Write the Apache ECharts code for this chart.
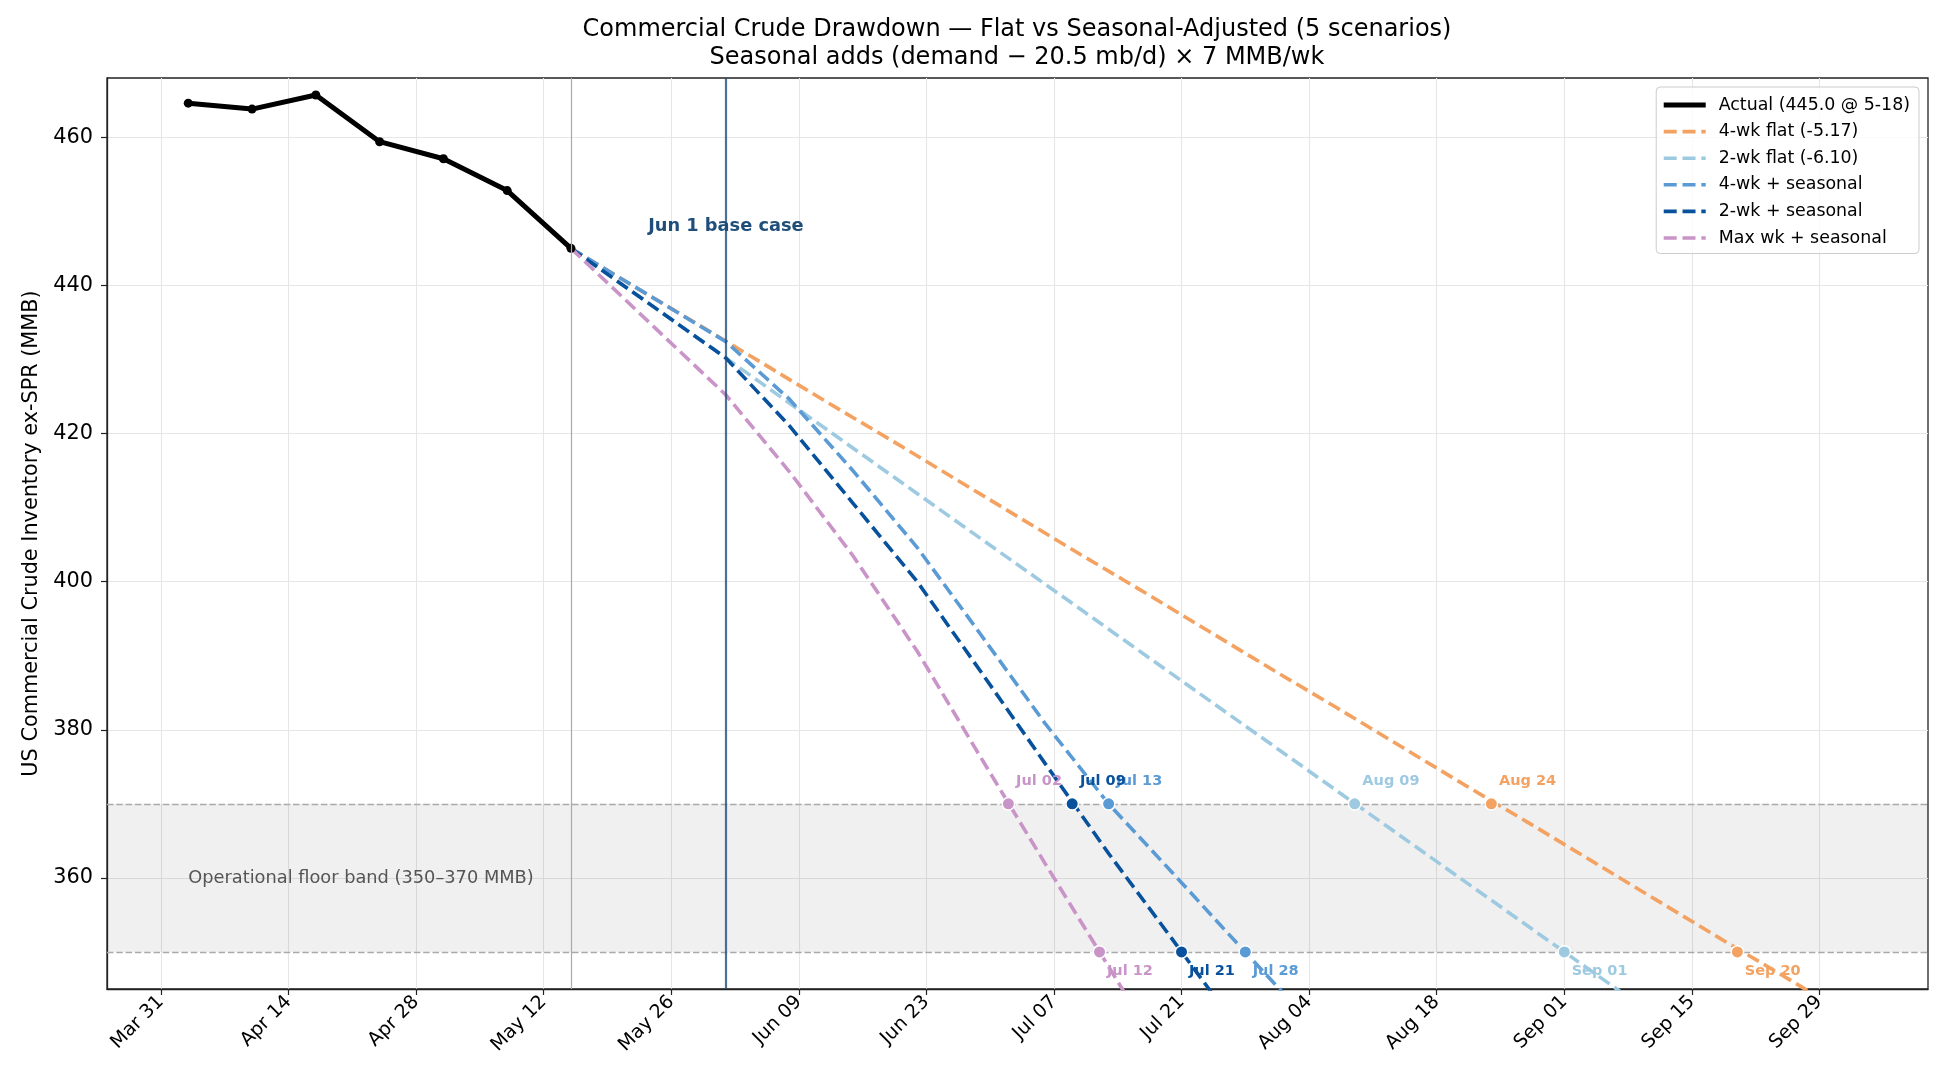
<!DOCTYPE html>
<html>
<head>
<meta charset="utf-8">
<script src="https://cdn.jsdelivr.net/npm/echarts@6/dist/echarts.min.js"></script>
<style>
  html, body { margin: 0; padding: 0; background: #fff; }
  #chart { width: 1950px; height: 1080px; }
</style>
</head>
<body>
<div id="chart"></div>
<script>
// ---- data ----
const actualDates = ['2026-04-03', '2026-04-10', '2026-04-17', '2026-04-24', '2026-05-01', '2026-05-08', '2026-05-15']
const actualValues = [464.6, 463.8, 465.7, 459.4, 457.1, 452.8, 445.0]

// flat projections, weekly from the last actual
const flatDates = ['2026-05-15', '2026-05-22', '2026-05-29', '2026-06-05', '2026-06-12', '2026-06-19', '2026-06-26',
  '2026-07-03', '2026-07-10', '2026-07-17', '2026-07-24', '2026-07-31', '2026-08-07', '2026-08-14',
  '2026-08-21', '2026-08-28', '2026-09-04', '2026-09-11', '2026-09-18', '2026-09-25', '2026-10-02']
const flat4wk = [445.0, 439.8, 434.7, 429.5, 424.3, 419.2, 414.0, 408.8, 403.6, 398.5, 393.3,
  388.1, 383.0, 377.8, 372.6, 367.5, 362.3, 357.1, 351.9, 346.8, 341.6]
const flat2wk = [445.0, 438.9, 432.8, 426.7, 420.6, 414.5, 408.4, 402.3, 396.2, 390.1, 384.0,
  377.9, 371.8, 365.7, 359.6, 353.5, 347.4, 341.3, 335.2, 329.1, 323.0]

// seasonal-adjusted projections (follow the flat pace until June, then steepen)
const seasonalDates = ['2026-05-15', '2026-06-01', '2026-06-08', '2026-06-15',
  '2026-06-22', '2026-06-29', '2026-07-06', '2026-07-13', '2026-07-20', '2026-07-27', '2026-08-03']
const seas4wk = [445.0, 432.4, 424.6, 414.9, 404.6, 392.8, 380.9, 370.0, 360.7, 351.3, 342.0]
const seas2wk = [445.0, 430.2, 421.0, 410.5, 400.0, 387.8, 375.5, 363.3, 351.7, 340.0, 328.5]
const seasMax = [445.0, 425.2, 414.8, 403.4, 390.6, 376.2, 362.0, 348.0, 334.0, 320.0, 306.0]

const scenarioNames = ['4-wk flat (-5.17)', '2-wk flat (-6.10)', '4-wk + seasonal', '2-wk + seasonal', 'Max wk + seasonal']
const cross370 = ['2026-08-24', '2026-08-09', '2026-07-13', '2026-07-09', '2026-07-02']
const cross350 = ['2026-09-20', '2026-09-01', '2026-07-28', '2026-07-21', '2026-07-12']

const xTicks = ['2026-03-31', '2026-04-14', '2026-04-28', '2026-05-12', '2026-05-26', '2026-06-09', '2026-06-23',
  '2026-07-07', '2026-07-21', '2026-08-04', '2026-08-18', '2026-09-01', '2026-09-15', '2026-09-29']
const yTicks = [360, 380, 400, 420, 440, 460]

const FLOOR_LO = 350
const FLOOR_HI = 370
const LAST_ACTUAL = '2026-05-15'
const BASE_CASE = '2026-06-01'

// ---- styles ----
const COLORS = ['#f4a261', '#9ecae1', '#5b9bd5', '#08519c', '#c994c7']
const FONT = 'DejaVu Sans'
const MONTHS = ['Jan', 'Feb', 'Mar', 'Apr', 'May', 'Jun', 'Jul', 'Aug', 'Sep', 'Oct', 'Nov', 'Dec']
const DASH = [13, 5.8]
const LINE_W = 3.6

const ts = s => Date.parse(s + 'T00:00:00Z')
const fmt = v => {
  const d = new Date(v)
  return MONTHS[d.getUTCMonth()] + ' ' + String(d.getUTCDate()).padStart(2, '0')
}
const pairs = (dates, vals) => dates.map((d, i) => [ts(d), vals[i]])

const actualName = 'Actual (445.0 @ 5-18)'
const scenarioData = [
  pairs(flatDates, flat4wk),
  pairs(flatDates, flat2wk),
  pairs(seasonalDates, seas4wk),
  pairs(seasonalDates, seas2wk),
  pairs(seasonalDates, seasMax)
]

const scenarioSeries = scenarioData.map((data, i) => ({
  name: scenarioNames[i],
  type: 'line',
  data,
  symbol: 'none',
  showSymbol: false,
  z: 3,
  lineStyle: { color: COLORS[i], width: LINE_W, type: DASH },
  itemStyle: { color: COLORS[i] }
}))

const crossSeries = scenarioNames.map((n, i) => ({
  name: n + ' floor',
  type: 'scatter',
  z: 5,
  symbolSize: 12.5,
  itemStyle: { color: COLORS[i], borderColor: '#fff', borderWidth: 1.5, opacity: 1 },
  label: {
    show: true,
    position: 'inside',
    align: 'left',
    verticalAlign: 'middle',
    color: COLORS[i],
    fontFamily: FONT,
    fontSize: 14.5,
    fontWeight: 'bold',
    formatter: p => fmt(p.value[0])
  },
  data: [
    { value: [ts(cross370[i]), FLOOR_HI], label: { offset: [7.7, -22.3] } },
    { value: [ts(cross350[i]), FLOOR_LO], label: { offset: [7.4, 19.4] } }
  ]
}))

const option = {
  animation: false,
  backgroundColor: '#fff',
  textStyle: { fontFamily: FONT },
  graphic: [
    {
      type: 'text', x: 1017, y: 30,
      style: {
        text: 'Commercial Crude Drawdown — Flat vs Seasonal-Adjusted (5 scenarios)',
        fontFamily: FONT, fontSize: 24, fill: '#000', align: 'center', verticalAlign: 'middle'
      }
    },
    {
      type: 'text', x: 1017, y: 58,
      style: {
        text: 'Seasonal adds (demand − 20.5 mb/d) × 7 MMB/wk',
        fontFamily: FONT, fontSize: 24, fill: '#000', align: 'center', verticalAlign: 'middle'
      }
    }
  ],
  grid: {
    left: 107, right: 22, top: 78, bottom: 91,
    show: true, borderColor: '#222', borderWidth: 1.3, backgroundColor: 'transparent'
  },
  legend: {
    data: [
      { name: actualName, lineStyle: { width: 5, type: 'solid' } },
      ...scenarioNames.map(n => ({ name: n, lineStyle: { width: LINE_W, type: DASH } }))
    ],
    orient: 'vertical',
    right: 31,
    top: 87,
    itemWidth: 42,
    itemHeight: 18,
    itemGap: 9.6,
    padding: [9.5, 9, 7, 5],
    selectedMode: false,
    itemStyle: { opacity: 0 },
    textStyle: { fontFamily: FONT, fontSize: 17.4, color: '#000', padding: [0, 0, 0, 8] },
    backgroundColor: 'rgba(255,255,255,0.8)',
    borderColor: '#cccccc',
    borderWidth: 1,
    borderRadius: 4
  },
  xAxis: {
    type: 'value',
    min: ts('2026-03-25') + 2 * 3600e3,
    max: ts('2026-10-10') + 22 * 3600e3,
    axisLine: { show: true, lineStyle: { color: '#222', width: 1.3 } },
    axisTick: { show: true, customValues: xTicks.map(ts), length: 6, lineStyle: { color: '#222', width: 1.2 } },
    axisLabel: {
      customValues: xTicks.map(ts),
      formatter: v => fmt(v),
      rotate: 45,
      margin: 10,
      fontFamily: FONT,
      fontSize: 19,
      color: '#000',
      hideOverlap: false
    },
    splitLine: { show: true, lineStyle: { color: '#e6e6e6', width: 1.1 } }
  },
  yAxis: {
    type: 'value',
    min: 345,
    max: 468,
    name: 'US Commercial Crude Inventory ex-SPR (MMB)',
    nameLocation: 'middle',
    nameGap: 64,
    nameTextStyle: { fontFamily: FONT, fontSize: 20.8, color: '#000' },
    axisLine: { show: true, lineStyle: { color: '#222', width: 1.3 } },
    axisTick: { show: true, customValues: yTicks, length: 6, lineStyle: { color: '#222', width: 1.2 } },
    axisLabel: { customValues: yTicks, margin: 14, fontFamily: FONT, fontSize: 20.8, color: '#000' },
    splitLine: { show: true, lineStyle: { color: '#e6e6e6', width: 1.1 } }
  },
  series: [
    // floor band + its label
    {
      name: 'floor band',
      type: 'scatter',
      z: 1,
      symbolSize: 0,
      silent: true,
      itemStyle: { opacity: 1 },
      data: [[ts(actualDates[0]), (FLOOR_LO + FLOOR_HI) / 2]],
      label: {
        show: true, position: 'right', distance: 0,
        formatter: 'Operational floor band (350–370 MMB)',
        fontFamily: FONT, fontSize: 17.8, color: '#555'
      },
      markArea: {
        silent: true,
        itemStyle: { color: 'rgba(0,0,0,0.06)' },
        data: [[{ yAxis: FLOOR_LO }, { yAxis: FLOOR_HI }]]
      },
      markLine: {
        silent: true,
        symbol: 'none',
        label: { show: false },
        lineStyle: { color: '#aaaaaa', width: 1.3, type: [6.5, 2.8] },
        data: [{ yAxis: FLOOR_HI }, { yAxis: FLOOR_LO }]
      }
    },
    // vertical markers + base case label
    {
      name: 'base case',
      type: 'scatter',
      z: 2,
      symbolSize: 0,
      silent: true,
      itemStyle: { opacity: 1 },
      data: [[ts(BASE_CASE), 448.0]],
      label: {
        show: true, position: 'inside', align: 'center', verticalAlign: 'middle',
        formatter: 'Jun 1 base case',
        fontFamily: FONT, fontSize: 17.8, fontWeight: 'bold', color: '#1f4e79'
      },
      markLine: {
        silent: true,
        symbol: 'none',
        label: { show: false },
        data: [
          { xAxis: ts(LAST_ACTUAL), lineStyle: { color: '#aaaaaa', width: 1.2, type: 'solid' } },
          { xAxis: ts(BASE_CASE), lineStyle: { color: '#1f4e79', opacity: 0.8, width: 2.2, type: 'solid' } }
        ]
      }
    },
    {
      name: actualName,
      type: 'line',
      z: 4,
      data: pairs(actualDates, actualValues),
      symbol: 'circle',
      symbolSize: 9,
      lineStyle: { color: '#000', width: 5 },
      itemStyle: { color: '#000' }
    },
    ...scenarioSeries,
    ...crossSeries
  ]
}

const chart = echarts.init(document.getElementById('chart'), null, { renderer: 'canvas' })
chart.setOption(option)
</script>
</body>
</html>
